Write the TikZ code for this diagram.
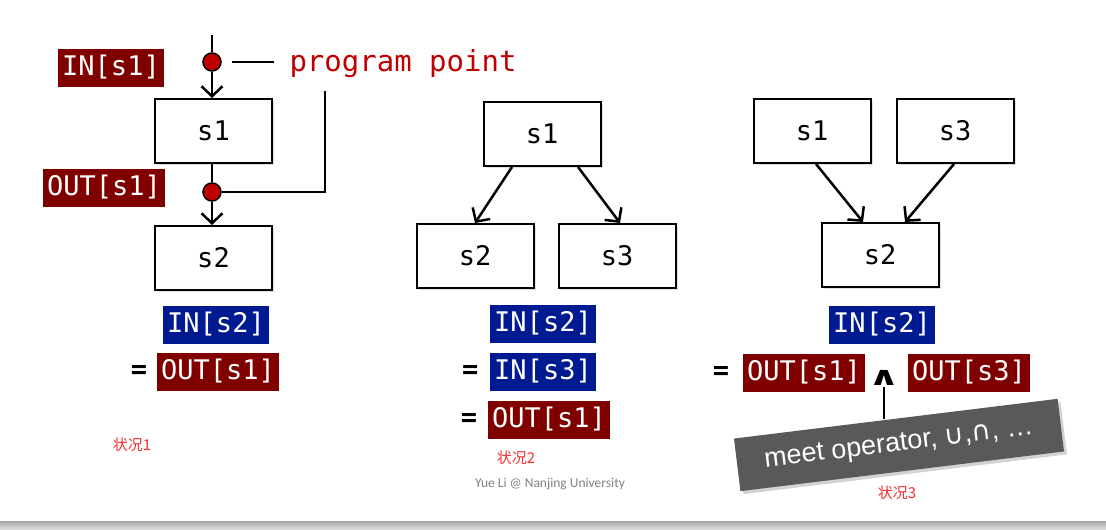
\documentclass[tikz,border=0pt]{standalone}
\usepackage{fontspec}
\setmainfont{Carlito}
\newfontfamily\codefont{DejaVu Sans Mono}
\newfontfamily\cjkfont{Noto Sans CJK SC}
\newfontfamily\arialfont{Liberation Sans}
\newfontfamily\symfont{DejaVu Sans}
\usetikzlibrary{arrows.meta, positioning, shadows}
\definecolor{outred}{RGB}{128,0,0}
\definecolor{inblue}{RGB}{0,26,145}
\definecolor{ppred}{RGB}{192,0,0}
\definecolor{notered}{RGB}{250,45,45}
\definecolor{meetgray}{RGB}{89,89,89}

\begin{document}
\begin{tikzpicture}[x=1pt, y=1pt,
    stmt/.style={
        draw, line width=2pt, fill=white,
        minimum width=117pt, minimum height=64pt,
        font=\codefont\fontsize{27}{27}\selectfont,
        drop shadow={shadow xshift=2pt, shadow yshift=-2pt, opacity=0.25}
    },
    lbl/.style={
        fill=#1, text=white,
        font=\codefont\fontsize{27}{27}\selectfont,
        text height=20pt, text depth=6pt,
        inner xsep=4.5pt, inner ysep=6pt
    },
    eq/.style={font=\codefont\bfseries\fontsize{27}{27}\selectfont, inner sep=0pt},
    pp/.style={circle, draw, line width=1.5pt, fill=ppred,
        minimum size=18pt, inner sep=0pt},
    flow/.style={line width=2.5pt, -{Straight Barb[length=10pt, width=21pt]}},
    link/.style={line width=2.5pt},
    note/.style={line width=1.2pt},
    casenote/.style={text=notered, font=\cjkfont\fontsize{15}{15}\selectfont}
]
\useasboundingbox (0,0) rectangle (1106,-530);

% =========================
% CASE 1: program points
% =========================
\coordinate (top) at (212,-35);
\node[pp] (pp1) at (212,-62) {};
\node[stmt] (a1) at (213.5,-131) {s1};
\node[pp] (pp2) at (212,-192) {};
\node[stmt, below=61pt of a1] (a2) {s2};

\draw[link] (top) -- (pp1);
\draw[flow] (pp1) -- (pp1 |- a1.north);
\draw[link] (pp2 |- a1.south) -- (pp2);
\draw[flow] (pp2) -- (pp2 |- a2.north);

\node[lbl=outred] (ins1) at (111,-68) {IN[s1]};
\node[lbl=outred] (outs1) at (104,-188) {OUT[s1]};

\node[anchor=west, text=ppred, font=\codefont\fontsize{29}{29}\selectfont]
    (ppnote) at (286,-64) {program point};
\coordinate (bend) at (325,-91);

\draw[note] ([xshift=10pt]pp1.east) -- ([xshift=-12pt]pp1.east -| ppnote.west);
\draw[note] (pp2.east) -| (bend);

\node[lbl=inblue] (l1) at (216,-325) {IN[s2]};
\node[lbl=outred] (l2) at (218,-372) {OUT[s1]};
\node[eq, left=9pt of l2] (leq) {=};

\node[casenote] (case1) at (132,-445) {状况1};

% =========================
% CASE 2: branch
% =========================
\node[stmt] (b1) at (542,-134) {s1};
\node[stmt] (b2) at (475,-256) {s2};
\node[stmt] (b3) at (617,-256) {s3};

\draw[flow] ([xshift=-30pt]b1.south) -- (b2.north);
\draw[flow] ([xshift=36pt]b1.south) -- ([xshift=3pt]b3.north);

\node[lbl=inblue] (m1) at (543,-324) {IN[s2]};
\node[lbl=inblue] (m2) at (543,-372) {IN[s3]};
\node[lbl=outred] (m3) at (549,-420) {OUT[s1]};
\node[eq, left=11pt of m2] (meq1) {=};
\node[eq, left=10pt of m3] (meq2) {=};

\node[casenote] (case2) at (516,-458) {状况2};

% =========================
% CASE 3: merge
% =========================
\node[stmt] (c1) at (812,-131) {s1};
\node[stmt] (c3) at (955,-131) {s3};
\node[stmt] (c2) at (880,-255) {s2};

\draw[flow] ([xshift=4pt]c1.south) -- ([xshift=-17pt]c2.north);
\draw[flow] ([xshift=-1pt]c3.south) -- ([xshift=25pt]c2.north);

\node[lbl=inblue] (r1) at (882,-325) {IN[s2]};
\node[lbl=outred] (r2) at (804,-373) {OUT[s1]};
\node[lbl=outred] (r3) at (969,-373) {OUT[s3]};
\node[eq, left=13pt of r2] (req) {=};
\node[font=\symfont\bfseries\fontsize{26}{26}\selectfont, inner sep=1pt]
    (wedge) at (884,-378) {\scalebox{1.5}[1]{∧}};

\node[rotate=7, fill=meetgray, text=white,
      minimum width=326pt, minimum height=53pt,
      font=\arialfont\fontsize{27}{27}\selectfont,
      drop shadow={shadow xshift=3pt, shadow yshift=-3pt, opacity=0.35}]
    (meet) at (899,-445) {meet operator, {\symfont ∪},{\symfont ∩}, …};

\draw[note] (wedge.south) -- (wedge.south |- meet.north);

\node[casenote] (case3) at (897,-493) {状况3};

% =========================
% FOOTER
% =========================
\node[text=black!50, font=\fontsize{13.5}{13.5}\selectfont]
    (footer) at (550,-484) {Yue Li @ Nanjing University};
\shade[top color=black!35, bottom color=black!10] (0,-521) rectangle (1106,-530);

\end{tikzpicture}
\end{document}
